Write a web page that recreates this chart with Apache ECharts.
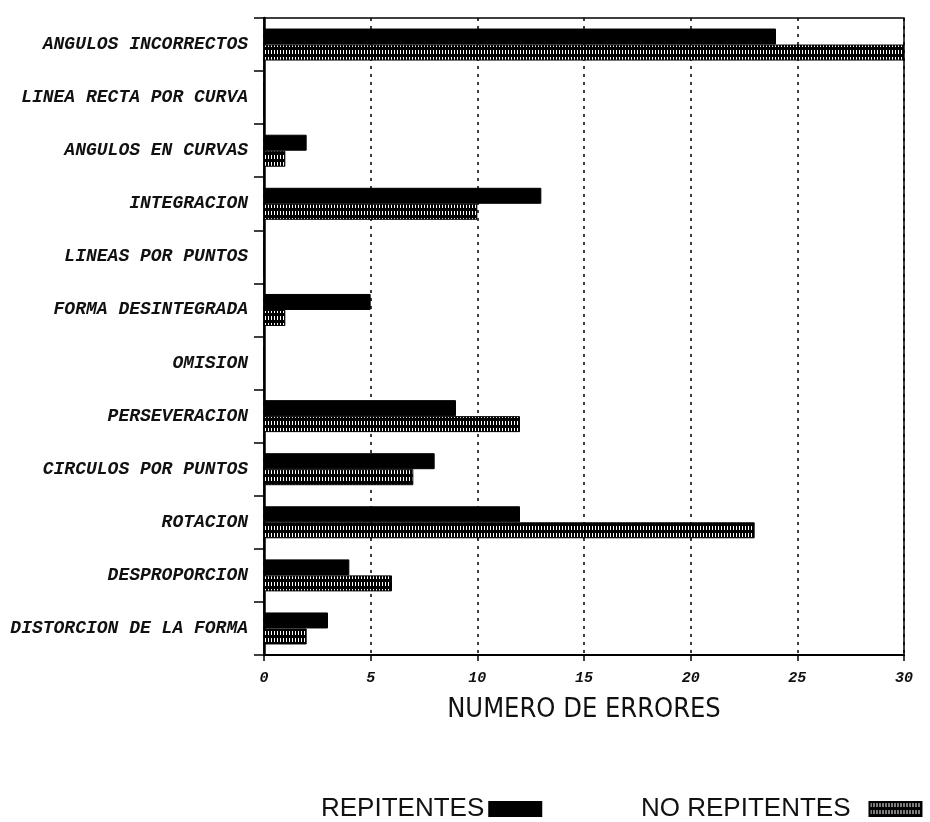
<!DOCTYPE html>
<html>
<head>
<meta charset="utf-8">
<title>Numero de errores</title>
<script src="https://cdn.jsdelivr.net/npm/echarts@6/dist/echarts.min.js"></script>
<style>
  html, body { margin: 0; padding: 0; background: #fff; }
  #chart { width: 930px; height: 822px; }
</style>
</head>
<body>
<div id="chart"></div>
<script>
const categories = [
  'ANGULOS INCORRECTOS',
  'LINEA RECTA POR CURVA',
  'ANGULOS EN CURVAS',
  'INTEGRACION',
  'LINEAS POR PUNTOS',
  'FORMA DESINTEGRADA',
  'OMISION',
  'PERSEVERACION',
  'CIRCULOS POR PUNTOS',
  'ROTACION',
  'DESPROPORCION',
  'DISTORCION DE LA FORMA'
]
const repitentes = [24, 0, 2, 13, 0, 5, 0, 9, 8, 12, 4, 3]
const noRepitentes = [30, 0, 1, 10, 0, 1, 0, 12, 7, 23, 6, 2]
const xTicks = [0, 5, 10, 15, 20, 25, 30]

const mono = '"Liberation Mono", "Courier New", monospace'
const sans = '"Liberation Sans", Arial, sans-serif'
const narrow = '"Liberation Sans Narrow", "DejaVu Sans Condensed", "Liberation Sans", sans-serif'

// hatch: black with small white vertical dashes
function hatchPattern() {
  const c = document.createElement('canvas')
  c.width = 3
  c.height = 7
  const ctx = c.getContext('2d')
  ctx.fillStyle = '#000'
  ctx.fillRect(0, 0, 3, 7)
  ctx.fillStyle = '#fff'
  ctx.fillRect(1, 1, 1, 4)
  return { image: c, repeat: 'repeat' }
}

const legendBase = {
  top: 791,
  align: 'right',
  icon: 'rect',
  itemWidth: 52,
  itemHeight: 14
}

const chart = echarts.init(document.getElementById('chart'))
chart.setOption({
  backgroundColor: '#fff',
  animation: false,
  grid: {
    left: 264, right: 26, top: 18, bottom: 167,
    show: true, borderColor: '#000', borderWidth: 1.5
  },
  legend: [
    {
      ...legendBase, left: 316, data: ['REPITENTES'],
      textStyle: { fontFamily: sans, fontSize: 26, color: '#111' }
    },
    {
      ...legendBase, left: 636, data: ['NO REPITENTES'],
      textStyle: { fontFamily: sans, fontSize: 26, color: '#111', padding: [0, 14, 0, 0] }
    }
  ],
  xAxis: {
    type: 'value',
    min: 0,
    max: 30,
    interval: 5,
    name: 'NUMERO DE ERRORES',
    nameLocation: 'middle',
    nameGap: 41,
    nameTextStyle: { fontFamily: narrow, fontSize: 27, color: '#111' },
    axisLine: { show: true, lineStyle: { color: '#000', width: 2 } },
    axisTick: { show: true, length: 6, lineStyle: { color: '#000', width: 1.5 } },
    axisLabel: {
      margin: 16,
      color: '#111',
      fontFamily: mono,
      fontStyle: 'italic',
      fontWeight: 'bold',
      fontSize: 15,
      formatter: (v) => xTicks.includes(v) ? String(v) : ''
    },
    splitLine: { show: true, lineStyle: { color: '#000', width: 1.5, type: [3, 5] } }
  },
  yAxis: {
    type: 'category',
    inverse: true,
    data: categories,
    axisLine: { show: true, lineStyle: { color: '#000', width: 2.5 } },
    axisTick: { show: true, inside: false, length: 10, lineStyle: { color: '#000', width: 1.5 } },
    axisLabel: {
      margin: 16,
      color: '#111',
      fontFamily: mono,
      fontStyle: 'italic',
      fontWeight: 'bold',
      fontSize: 18
    }
  },
  series: [
    {
      name: 'REPITENTES',
      type: 'bar',
      data: repitentes,
      barWidth: 16,
      barGap: '0%',
      itemStyle: { color: '#000', borderColor: '#000', borderWidth: 1 }
    },
    {
      name: 'NO REPITENTES',
      type: 'bar',
      data: noRepitentes,
      barWidth: 16,
      barGap: '0%',
      itemStyle: { color: hatchPattern(), borderColor: '#000', borderWidth: 1 }
    }
  ]
})
</script>
</body>
</html>
